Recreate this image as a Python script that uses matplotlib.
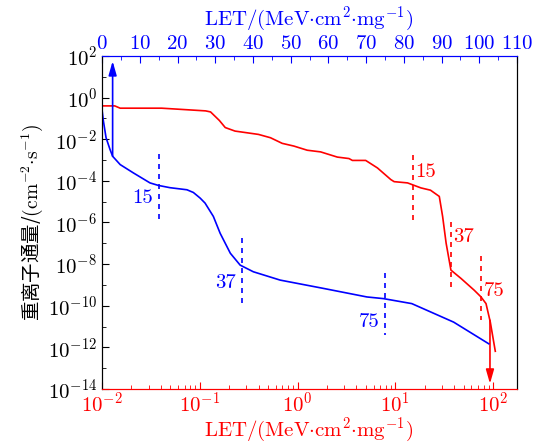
import numpy as np
import matplotlib
matplotlib.use('Agg')
import matplotlib.pyplot as plt
from matplotlib.ticker import FixedLocator, MultipleLocator, LogLocator, NullFormatter

plt.rcParams['font.family'] = 'serif'
plt.rcParams['font.serif'] = ['cmr10']
plt.rcParams['mathtext.fontset'] = 'cm'
plt.rcParams['axes.formatter.use_mathtext'] = True

# blue curve, read against the top (linear) LET axis
blue_let = [0, 0.35, 1.06, 2.1, 2.8, 4.8, 8.3, 12.7, 14.9, 18.0, 20.7, 22.5, 24.2, 26.0,
            27.3, 29.5, 31.3, 34.0, 36.6, 40.1, 47.2, 58.7, 70.2, 74.6, 82.1, 93.2, 102.5]
blue_logflux = [-0.6, -1.12, -1.93, -2.49, -2.82, -3.22, -3.62, -4.10, -4.22, -4.33, -4.39, -4.43,
                -4.56, -4.83, -5.07, -5.71, -6.52, -7.48, -8.05, -8.37, -8.77, -9.17, -9.58,
                -9.66, -9.90, -10.79, -11.83]

# red curve, read against the bottom (log) LET axis
red_loglet = [-2.0, -1.87, -1.815, -1.39, -0.94, -0.89, -0.80, -0.74, -0.64, -0.40, -0.277,
              -0.157, -0.038, 0.099, 0.236, 0.407, 0.526, 0.561, 0.697, 0.817, 0.954, 0.988,
              1.125, 1.262, 1.36, 1.45, 1.484, 1.52, 1.569, 1.672, 1.808, 1.877, 1.928, 1.972, 2.023]
red_logflux = [-0.40, -0.40, -0.51, -0.51, -0.64, -0.69, -1.10, -1.44, -1.61, -1.77, -1.93,
               -2.20, -2.33, -2.53, -2.61, -2.86, -2.93, -3.02, -3.02, -3.38, -3.94, -4.04,
               -4.10, -4.34, -4.45, -4.75, -5.71, -7.00, -8.29, -8.69, -9.26, -9.58, -9.90,
               -10.79, -12.19]

# threshold markers: LET, log flux top, log flux bottom, log flux of label
mark_let = [15, 37, 75]
blue_mark_top = [-2.73, -6.74, -8.43]
blue_mark_bot = [-5.87, -9.88, -11.43]
blue_label_y = [-4.81, -8.92, -10.8]
red_mark_top = [-2.78, -6.0, -7.6]
red_mark_bot = [-5.87, -9.1, -10.7]
red_label_y = [-3.56, -6.70, -9.30]

fig = plt.figure(figsize=(5.4, 4.44), dpi=100)
ax = fig.add_axes([0.189, 0.124, 0.7685, 0.750])
ax2 = ax.twiny()

fs = 15
ax.plot(10 ** np.array(red_loglet), 10 ** np.array(red_logflux), color='red', lw=1.2)
ax2.plot(blue_let, 10 ** np.array(blue_logflux), color='blue', lw=1.2)

for i in range(len(mark_let)):
    ax2.plot([mark_let[i], mark_let[i]], [10 ** blue_mark_top[i], 10 ** blue_mark_bot[i]],
             color='blue', lw=1.2, linestyle=(0, (3, 3)))
    ax2.annotate(str(mark_let[i]), xy=(mark_let[i], 10 ** blue_label_y[i]), xytext=(-4, 0),
                 textcoords='offset points', ha='right', va='center', color='blue',
                 fontsize=fs)
    ax.plot([mark_let[i], mark_let[i]], [10 ** red_mark_top[i], 10 ** red_mark_bot[i]],
            color='red', lw=1.2, linestyle=(0, (3, 3)))
    ax.annotate(str(mark_let[i]), xy=(mark_let[i], 10 ** red_label_y[i]), xytext=(2, 0),
                textcoords='offset points', ha='left', va='center', color='red',
                fontsize=fs)

# arrows pointing to the axis each curve belongs to
ax2.annotate('', xy=(2.8, 10 ** 1.75), xytext=(2.8, 10 ** -2.82),
             arrowprops=dict(arrowstyle='-|>,head_length=0.7,head_width=0.2',
                             color='blue', lw=1.2, mutation_scale=12, shrinkA=0, shrinkB=0))
ax.annotate('', xy=(93, 10 ** -13.75), xytext=(93, 10 ** -10.7),
            arrowprops=dict(arrowstyle='-|>,head_length=0.7,head_width=0.2',
                            color='red', lw=1.2, mutation_scale=12, shrinkA=0, shrinkB=0))

ax.set_xscale('log')
ax.set_yscale('log')
ax.set_xlim(0.01, 176)
ax.set_ylim(1e-14, 1e2)
ax2.set_xlim(0, 110)

ax.yaxis.set_major_locator(FixedLocator([10.0 ** e for e in range(-14, 3, 2)]))
ax.yaxis.set_minor_locator(FixedLocator([10.0 ** e for e in range(-13, 2, 2)]))
ax.yaxis.set_minor_formatter(NullFormatter())
ax.xaxis.set_major_locator(FixedLocator([0.01, 0.1, 1, 10, 100]))
ax.xaxis.set_minor_locator(LogLocator(base=10, subs=np.arange(2, 10), numticks=20))
ax.xaxis.set_minor_formatter(NullFormatter())
ax2.xaxis.set_major_locator(MultipleLocator(10))
ax2.xaxis.set_minor_locator(MultipleLocator(5))

ax.tick_params(which='both', direction='in', top=False, right=False, labelsize=fs)
ax.tick_params(which='major', length=5)
ax.tick_params(which='minor', length=3)
ax.tick_params(axis='x', which='both', colors='red', labelcolor='red', pad=2)
ax2.tick_params(which='both', direction='in', labelsize=fs, colors='blue', labelcolor='blue')
ax2.tick_params(which='major', length=5, pad=2)
ax2.tick_params(which='minor', length=3)

for a in (ax, ax2):
    a.spines['bottom'].set_color('red')
    a.spines['top'].set_color('blue')
    a.spines['left'].set_color('black')
    a.spines['right'].set_color('black')

xlab = r'$\mathrm{LET/(MeV{\cdot}cm^{2}{\cdot}mg^{-1})}$'
fig.text(0.572, 0.958, xlab, color='blue', fontsize=fs, ha='center', va='center')
fig.text(0.572, 0.032, xlab, color='red', fontsize=fs, ha='center', va='center')
ax.set_ylabel(r'重离子通量/$(\mathrm{cm}^{-2}{\cdot}\mathrm{s}^{-1})$', fontsize=14,
              family=['Noto Sans CJK SC', 'DejaVu Sans'], labelpad=2)

fig.savefig('out.png', dpi=100)
